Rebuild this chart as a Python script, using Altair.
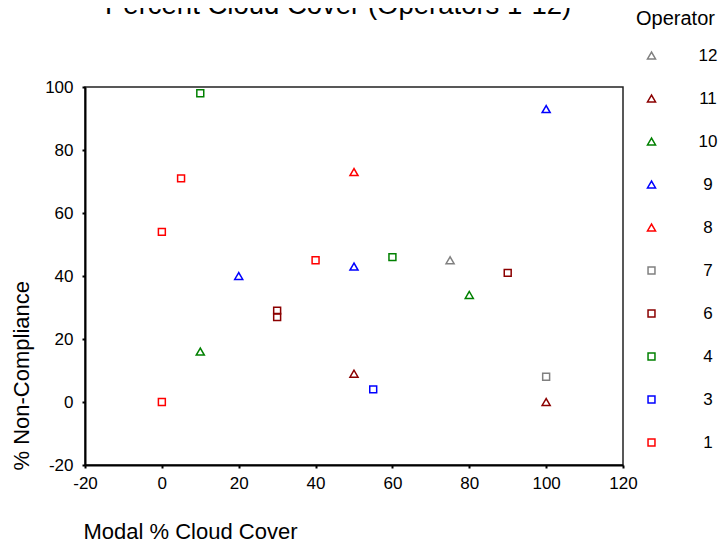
import altair as alt
import pandas as pd

# Data
operators = ["1", "1", "1", "1", "3", "4", "4", "6", "6", "6", "7", "8",
             "9", "9", "9", "10", "10", "11", "11", "12"]
cloud_cover = [0, 0, 5, 40, 55, 10, 60, 30, 30, 90, 100, 50,
               20, 50, 100, 10, 80, 50, 100, 75]
non_compliance = [54, 0, 71, 45, 4, 98, 46, 29, 27, 41, 8, 73,
                  40, 43, 93, 16, 34, 9, 0, 45]

legend_order = ["12", "11", "10", "9", "8", "7", "6", "4", "3", "1"]
legend_colors = ["#808080", "#8b0000", "#008000", "#0000ff", "#ff0000",
                 "#808080", "#8b0000", "#008000", "#0000ff", "#ff0000"]
legend_shapes = ["triangle-up"] * 5 + ["square"] * 5
legend_sizes = [65] * 5 + [48] * 5

chart_title = ["Percent Cloud Cover (Operators 1-12)"]

x_ticks = [-20, 0, 20, 40, 60, 80, 100, 120]
y_ticks = [-20, 0, 20, 40, 60, 80, 100]

df = pd.DataFrame({
    "Operator": operators,
    "Modal % Cloud Cover": cloud_cover,
    "% Non-Compliance": non_compliance,
})
title_df = pd.DataFrame({"title": chart_title})

FONT = "Liberation Sans"

points = alt.Chart(df).mark_point(filled=False, strokeWidth=1.5, opacity=1).encode(
    x=alt.X("Modal % Cloud Cover:Q",
            scale=alt.Scale(domain=[-20, 120], nice=False, zero=False),
            axis=alt.Axis(values=x_ticks, title="Modal % Cloud Cover",
                          titleX=-2, titleY=73, titleAlign="left",
                          titleBaseline="alphabetic", labelFlush=False,
                          labelPadding=7, labelExpr="'' + datum.value")),
    y=alt.Y("% Non-Compliance:Q",
            scale=alt.Scale(domain=[-20, 100], nice=False, zero=False),
            axis=alt.Axis(values=y_ticks, title="% Non-Compliance",
                          titleX=-64, titleY=383, titleAlign="left",
                          titleBaseline="middle", titleAngle=-90,
                          labelFlush=False, labelPadding=9,
                          labelExpr="'' + datum.value")),
    color=alt.Color("Operator:O",
                    scale=alt.Scale(type="ordinal", domain=legend_order,
                                    range=legend_colors),
                    legend=alt.Legend(title="Operator", orient="none",
                                      legendX=551, legendY=-78,
                                      titleFontSize=20, titleFontWeight="normal",
                                      titleColor="black", titleFont=FONT,
                                      labelFontSize=17, labelColor="black",
                                      labelFont=FONT, labelAlign="center",
                                      labelOffset=48, rowPadding=25,
                                      titlePadding=18, symbolOffset=7,
                                      symbolStrokeWidth=1.5,
                                      symbolFillColor="transparent")),
    shape=alt.Shape("Operator:O",
                    scale=alt.Scale(type="ordinal", domain=legend_order,
                                    range=legend_shapes)),
    size=alt.Size("Operator:O",
                  scale=alt.Scale(type="ordinal", domain=legend_order,
                                  range=legend_sizes)),
)

title_text = alt.Chart(title_df).mark_text(
    align="left", baseline="alphabetic", fontSize=27.5, font=FONT, color="black"
).encode(
    text="title:N",
    x=alt.value(20),
    y=alt.value(-73),
)

chart = alt.layer(points, title_text).properties(
    width=538,
    height=378,
    autosize=alt.AutoSizeParams(type="none"),
    padding={"left": 77, "top": 79, "right": 95, "bottom": 77},
).configure_view(
    stroke="#222222", strokeWidth=1.5
).configure_axis(
    grid=False, domainColor="black", domainWidth=2,
    tickColor="black", tickWidth=2, tickSize=3,
    labelFont=FONT, labelFontSize=17, labelColor="black",
    titleFont=FONT, titleFontSize=22, titleFontWeight="normal",
    titleColor="black",
)

chart.save("out.html", embed_options={"renderer": "svg", "actions": False})
